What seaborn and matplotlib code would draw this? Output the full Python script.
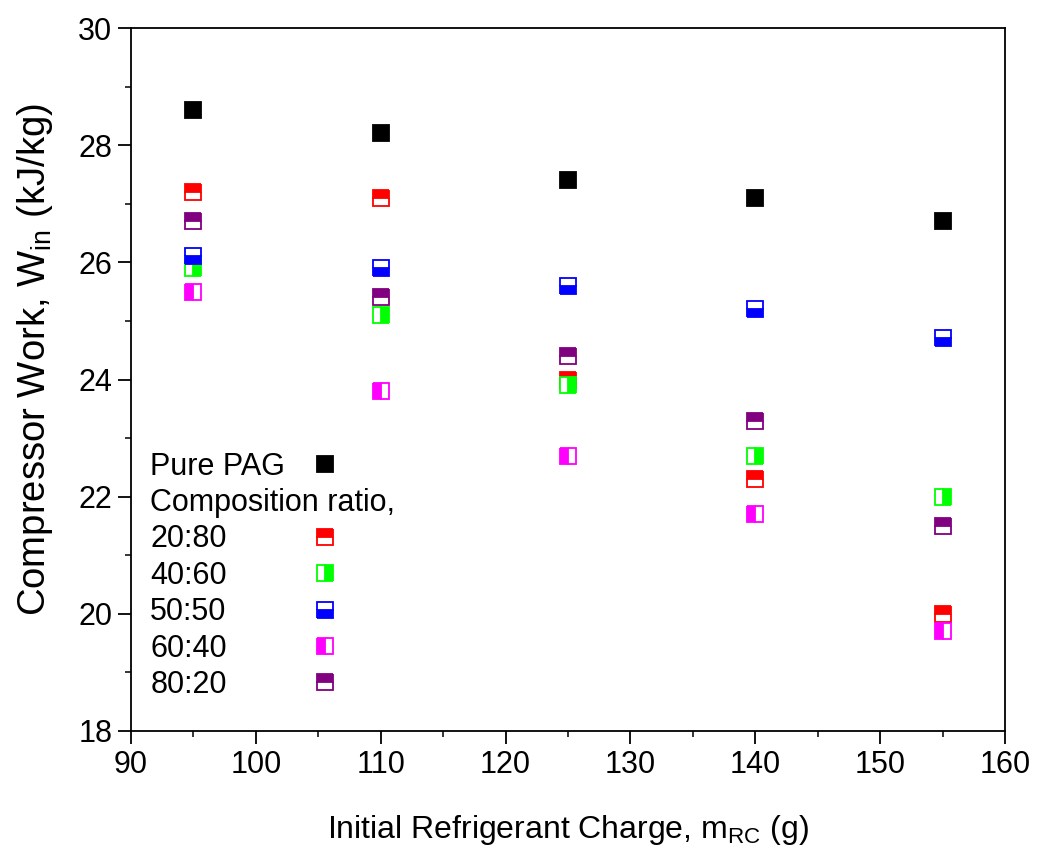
import numpy as np
import matplotlib
matplotlib.use("Agg")
import matplotlib.pyplot as plt
import seaborn as sns
from matplotlib.lines import Line2D
from matplotlib.ticker import MultipleLocator

# datos
carga = [95, 110, 125, 140, 155]
pure_pag = [28.6, 28.2, 27.4, 27.1, 26.7]
r20_80 = [27.2, 27.1, 24.0, 22.3, 20.0]
r40_60 = [25.9, 25.1, 23.9, 22.7, 22.0]
r50_50 = [26.1, 25.9, 25.6, 25.2, 24.7]
r60_40 = [25.5, 23.8, 22.7, 21.7, 19.7]
r80_20 = [26.7, 25.4, 24.4, 23.3, 21.5]

series = [
    ("Pure PAG", pure_pag, "black", "full"),
    ("20:80", r20_80, "#ff0000", "top"),
    ("40:60", r40_60, "#00ff00", "right"),
    ("50:50", r50_50, "#0000ff", "bottom"),
    ("60:40", r60_40, "#ff00ff", "left"),
    ("80:20", r80_20, "#800080", "top"),
]

sns.set_theme(style="ticks")
plt.rcParams["font.family"] = ["Liberation Sans", "DejaVu Sans"]
plt.rcParams["mathtext.fontset"] = "custom"
plt.rcParams["mathtext.rm"] = "Liberation Sans"

fig = plt.figure(figsize=(10.49, 8.49), dpi=100)
ax = fig.add_axes([0.1249, 0.139, 0.8332, 0.828])

for nombre, valores, color, estilo in series:
    sns.lineplot(x=carga, y=valores, ax=ax, color=color, marker="s",
                 linestyle="", markersize=11, markeredgewidth=1.3,
                 markeredgecolor=color, fillstyle=estilo,
                 markerfacecoloralt="white", label=nombre)

ax.set_xlim(90, 160)
ax.set_ylim(18, 30)
ax.xaxis.set_major_locator(MultipleLocator(10))
ax.xaxis.set_minor_locator(MultipleLocator(5))
ax.yaxis.set_major_locator(MultipleLocator(2))
ax.yaxis.set_minor_locator(MultipleLocator(1))
ax.tick_params(which="major", direction="out", length=9.5, width=1.3,
               labelsize=22, colors="black", pad=4)
ax.tick_params(which="minor", direction="out", length=4.5, width=1.3)
for s in ax.spines.values():
    s.set_linewidth(1.3)
    s.set_color("black")

ax.set_xlabel(r"Initial Refrigerant Charge, m$_{\mathregular{RC}}$ (g)",
              fontsize=23, labelpad=24, color="black")
ax.set_ylabel(r"Compressor Work, W$_{\mathregular{in}}$ (kJ/kg)",
              fontsize=27.5, color="black")
ax.yaxis.set_label_coords(-0.087, 0.528)

# leyenda: textos a la izquierda, marcadores en una columna aparte
handles, labels = ax.get_legend_handles_labels()
vacio = Line2D([], [], linestyle="", marker="")
handles = [handles[0], vacio] + handles[1:]
labels = [labels[0], "Composition ratio,"] + labels[1:]

ley_txt = ax.legend([vacio] * len(labels), labels, loc="lower left",
                    bbox_to_anchor=(0.022, 0.044), frameon=False,
                    fontsize=22, handlelength=0, handletextpad=0,
                    labelspacing=0.21, borderpad=0, borderaxespad=0,
                    labelcolor="black")
ax.add_artist(ley_txt)
ax.legend(handles, [" "] * len(labels), loc="lower left",
          bbox_to_anchor=(0.205, 0.044), frameon=False, fontsize=22,
          handlelength=1.0, handletextpad=0, labelspacing=0.21,
          borderpad=0, borderaxespad=0)

fig.savefig("out.png", dpi=100)
